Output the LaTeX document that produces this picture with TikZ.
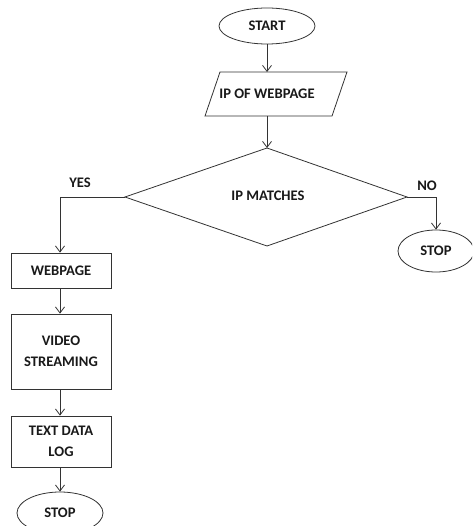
\documentclass[tikz,border=0pt]{standalone}
\usepackage{fontspec}
\setmainfont{Carlito}
\usetikzlibrary{shapes.geometric,arrows.meta}
\begin{document}
\begin{tikzpicture}[x=1pt,y=-1pt,
  every node/.style={font=\bfseries\fontsize{14.6}{21}\selectfont, text=black!90},
  ln/.style={draw=black!80, line width=0.8pt},
  arr/.style={ln, -{Straight Barb[length=6pt,width=9pt]}},
  term/.style={ellipse, draw=black!80, line width=0.8pt, inner sep=0pt},
  proc/.style={rectangle, draw=black!80, line width=0.8pt, minimum width=100pt, inner sep=0pt, align=center}]
\useasboundingbox (0,0) rectangle (472,526);
\clip (0,0) rectangle (472,526);
\node[term, minimum width=96pt, minimum height=36pt] (start) at (267,26) {START};
\draw[ln] (220,72) -- (347,72) -- (332,116) -- (205,116) -- cycle;
\node (ipw) at (267,94) {IP OF WEBPAGE};
\coordinate (ptop) at (267,72);
\coordinate (pbot) at (267,116);
\draw[ln] (267,148) -- (407,197) -- (267,246) -- (125,197) -- cycle;
\node (ipm) at (268,196) {IP MATCHES};
\coordinate (dtop) at (267,148);
\coordinate (dl) at (125,197);
\coordinate (dr) at (407,197);
\node[term, minimum width=76pt, minimum height=42pt] (stopr) at (436,251) {STOP};
\node[proc, minimum height=35pt] (web) at (61,270.5) {WEBPAGE};
\node[proc, minimum height=75pt] (vid) at (61,351.5) {VIDEO\\STREAMING};
\node[proc, minimum height=51pt] (txt) at (61,441.5) {TEXT DATA\\LOG};
\node[term, minimum width=86pt, minimum height=42pt] (stopl) at (60,513) {STOP};
\node (yes) at (80,183) {YES};
\node (no) at (427,186) {NO};
\draw[arr] (start) -- (ptop);
\draw[arr] (pbot) -- (dtop);
\draw[arr] (dl) -| (web.north -| 60,0);
\draw[arr] (dr) -| (stopr.north);
\draw[arr] (web.south -| 60,0) -- (vid.north -| 60,0);
\draw[arr] (vid.south -| 60,0) -- (txt.north -| 60,0);
\draw[arr] (txt.south -| 60,0) -- (stopl.north);
\end{tikzpicture}
\end{document}
